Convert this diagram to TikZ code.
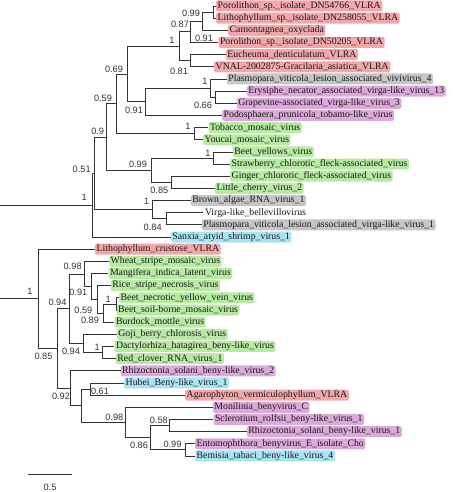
\documentclass[tikz,border=0pt]{standalone}
\usepackage{fontspec}
\setmainfont{Liberation Serif}
\setsansfont{Liberation Sans}
\definecolor{cR}{HTML}{F3A7AB}
\definecolor{cG}{HTML}{B7EAA2}
\definecolor{cP}{HTML}{DDA8DA}
\definecolor{cY}{HTML}{C6C6C6}
\definecolor{cC}{HTML}{A8E4F2}
\definecolor{ln}{HTML}{333333}
\begin{document}
\begin{tikzpicture}[x=1pt,y=-1pt,
  br/.style={draw=ln, line width=0.8pt},
  leaf/.style={anchor=west, inner xsep=1.5pt, inner ysep=0pt, minimum height=11pt, rounded corners=1.5pt, font=\fontsize{9.8}{10}\selectfont, text=black!90},
  lR/.style={leaf, fill=cR}, lG/.style={leaf, fill=cG}, lP/.style={leaf, fill=cP},
  lY/.style={leaf, fill=cY}, lC/.style={leaf, fill=cC}, lW/.style={leaf},
  bs/.style={font=\sffamily\fontsize{9.2}{9}\selectfont, inner sep=0pt, text=black!80}]
\useasboundingbox (0,0) rectangle (474,492);
% leaves
\node[lR] (L1) at (216,6.0) {Porolithon\_sp.\_isolate\_DN54766\_VLRA};
\node[lR] (L2) at (216,18.16) {Lithophyllum\_sp.\_isolate\_DN258055\_VLRA};
\node[lR] (L3) at (228,30.32) {Camontagnea\_oxyclada};
\node[lR] (L4) at (218.3,42.48) {Porolithon\_sp.\_isolate\_DN50205\_VLRA};
\node[lR] (L5) at (225.7,54.64) {Eucheuma\_denticulatum\_VLRA};
\node[lR] (L6) at (214,66.8) {VNAL-2002875-Gracilaria\_asiatica\_VLRA};
\node[lY] (L7) at (226.7,78.96) {Plasmopara\_viticola\_lesion\_associated\_vivivirus\_4};
\node[lP] (L8) at (246.7,91.12) {Erysiphe\_necator\_associated\_virga-like\_virus\_13};
\node[lP] (L9) at (236.7,103.28) {Grapevine-associated\_virga-like\_virus\_3};
\node[lP] (L10) at (222,115.44) {Podosphaera\_prunicola\_tobamo-like\_virus};
\node[lG] (L11) at (208.3,127.6) {Tobacco\_mosaic\_virus};
\node[lG] (L12) at (203,139.76) {Youcai\_mosaic\_virus};
\node[lG] (L13) at (232.7,151.92) {Beet\_yellows\_virus};
\node[lG] (L14) at (230,164.08) {Strawberry\_chlorotic\_fleck-associated\_virus};
\node[lG] (L15) at (230,176.24) {Ginger\_chlorotic\_fleck-associated\_virus};
\node[lG] (L16) at (215,188.4) {Little\_cherry\_virus\_2};
\node[lY] (L17) at (190.7,200.56) {Brown\_algae\_RNA\_virus\_1};
\node[lW] (L18) at (203.3,212.72) {Virga-like\_bellevillovirus};
\node[lY] (L19) at (201.7,224.88) {Plasmopara\_viticola\_lesion\_associated\_virga-like\_virus\_1};
\node[lC] (L20) at (170.7,237.04) {Sanxia\_atyid\_shrimp\_virus\_1};
\node[lR] (L21) at (95,249.2) {Lithophyllum\_crustose\_VLRA};
\node[lG] (L22) at (109,261.36) {Wheat\_stripe\_mosaic\_virus};
\node[lG] (L23) at (108.3,273.52) {Mangifera\_indica\_latent\_virus};
\node[lG] (L24) at (110.7,285.68) {Rice\_stripe\_necrosis\_virus};
\node[lG] (L25) at (119,297.84) {Beet\_necrotic\_yellow\_vein\_virus};
\node[lG] (L26) at (116.5,310.0) {Beet\_soil-borne\_mosaic\_virus};
\node[lG] (L27) at (114.3,322.16) {Burdock\_mottle\_virus};
\node[lG] (L28) at (116.7,334.32) {Goji\_berry\_chlorosis\_virus};
\node[lG] (L29) at (114.3,346.48) {Dactylorhiza\_hatagirea\_beny-like\_virus};
\node[lG] (L30) at (115.7,358.64) {Red\_clover\_RNA\_virus\_1};
\node[lP] (L31) at (120.5,370.8) {Rhizoctonia\_solani\_beny-like\_virus\_2};
\node[lC] (L32) at (124,382.96) {Hubei\_Beny-like\_virus\_1};
\node[lR] (L33) at (185,395.12) {Agarophyton\_vermiculophyllum\_VLRA};
\node[lP] (L34) at (212.7,407.28) {Monilinia\_benyvirus\_C};
\node[lP] (L35) at (213.3,419.44) {Sclerotium\_rolfsii\_beny-like\_virus\_1};
\node[lP] (L36) at (246.7,431.6) {Rhizoctonia\_solani\_beny-like\_virus\_1};
\node[lP] (L37) at (195,443.76) {Entomophthora\_benyvirus\_E\_isolate\_Cho};
\node[lC] (L38) at (195,455.92) {Bemisia\_tabaci\_beny-like\_virus\_4};
% internal nodes (upper)
\coordinate (n12) at (213.3,12.08);
\coordinate (n123) at (202.3,21.2);
\coordinate (n1234) at (190.7,31.84);
\coordinate (n56) at (190.7,60.72);
\coordinate (n1to6) at (179,46.28);
\coordinate (n89) at (215.7,97.2);
\coordinate (n789) at (210.7,88.08);
\coordinate (n7to10) at (145.7,101.76);
\coordinate (n1to10) at (127.7,74.02);
\coordinate (n1112) at (194.3,133.68);
\coordinate (n1to12) at (116.7,103.85);
\coordinate (n1314) at (213.3,158);
\coordinate (n1516) at (171.7,182.32);
\coordinate (n13to16) at (151.7,170.16);
\coordinate (nA) at (106.7,137.0);
\coordinate (n1819) at (166,218.8);
\coordinate (n17to19) at (152.7,209.68);
\coordinate (nB) at (94.3,173.34);
\coordinate (nC) at (92,205.19);
\coordinate (r1) at (0,205.19);
% internal nodes (lower)
\coordinate (G1e) at (116,303.92);
\coordinate (G1d) at (103.3,313.04);
\coordinate (G1c) at (97.3,299.36);
\coordinate (G1b) at (91.7,286.44);
\coordinate (G1) at (84.7,273.9);
\coordinate (G2b) at (102,352.56);
\coordinate (G2) at (83.3,343.44);
\coordinate (G) at (69.7,308.67);
\coordinate (B1e) at (185.7,449.84);
\coordinate (B1d) at (169.3,425.52);
\coordinate (B1c) at (150.5,437.68);
\coordinate (B1b) at (125,422.48);
\coordinate (B1a) at (90,389.04);
\coordinate (B1) at (81.7,405.76);
\coordinate (B) at (70.7,388.28);
\coordinate (X) at (57.3,348.48);
\coordinate (Lr) at (38.3,298.84);
\coordinate (r2) at (0,298.84);
% branches upper
\draw[br] (n12) |- (L1.west); \draw[br] (n12) |- (L2.west);
\draw[br] (n123) |- (n12); \draw[br] (n123) |- (L3.west);
\draw[br] (n1234) |- (n123); \draw[br] (n1234) |- (L4.west);
\draw[br] (n56) |- (L5.west); \draw[br] (n56) |- (L6.west);
\draw[br] (n1to6) |- (n1234); \draw[br] (n1to6) |- (n56);
\draw[br] (n89) |- (L8.west); \draw[br] (n89) |- (L9.west);
\draw[br] (n789) |- (L7.west); \draw[br] (n789) |- (n89);
\draw[br] (n7to10) |- (n789); \draw[br] (n7to10) |- (L10.west);
\draw[br] (n1to10) |- (n1to6); \draw[br] (n1to10) |- (n7to10);
\draw[br] (n1112) |- (L11.west); \draw[br] (n1112) |- (L12.west);
\draw[br] (n1to12) |- (n1to10); \draw[br] (n1to12) |- (n1112);
\draw[br] (n1314) |- (L13.west); \draw[br] (n1314) |- (L14.west);
\draw[br] (n1516) |- (L15.west); \draw[br] (n1516) |- (L16.west);
\draw[br] (n13to16) |- (n1314); \draw[br] (n13to16) |- (n1516);
\draw[br] (nA) |- (n1to12); \draw[br] (nA) |- (n13to16);
\draw[br] (n1819) |- (L18.west); \draw[br] (n1819) |- (L19.west);
\draw[br] (n17to19) |- (L17.west); \draw[br] (n17to19) |- (n1819);
\draw[br] (nB) |- (nA); \draw[br] (nB) |- (n17to19);
\draw[br] (nC) |- (nB); \draw[br] (nC) |- (L20.west);
\draw[br] (r1) -- (nC);
% branches lower
\draw[br] (G1e) |- (L25.west); \draw[br] (G1e) |- (L26.west);
\draw[br] (G1d) |- (G1e); \draw[br] (G1d) |- (L27.west);
\draw[br] (G1c) |- (L24.west); \draw[br] (G1c) |- (G1d);
\draw[br] (G1b) |- (L23.west); \draw[br] (G1b) |- (G1c);
\draw[br] (G1) |- (L22.west); \draw[br] (G1) |- (G1b);
\draw[br] (G2b) |- (L29.west); \draw[br] (G2b) |- (L30.west);
\draw[br] (G2) |- (L28.west); \draw[br] (G2) |- (G2b);
\draw[br] (G) |- (G1); \draw[br] (G) |- (G2);
\draw[br] (B1e) |- (L37.west); \draw[br] (B1e) |- (L38.west);
\draw[br] (B1d) |- (L35.west); \draw[br] (B1d) |- (L36.west);
\draw[br] (B1c) |- (B1d); \draw[br] (B1c) |- (B1e);
\draw[br] (B1b) |- (L34.west); \draw[br] (B1b) |- (B1c);
\draw[br] (B1a) |- (L32.west); \draw[br] (B1a) |- (L33.west);
\draw[br] (B1) |- (B1a); \draw[br] (B1) |- (B1b);
\draw[br] (B) |- (L31.west); \draw[br] (B) |- (B1);
\draw[br] (X) |- (G); \draw[br] (X) |- (B);
\draw[br] (Lr) |- (L21.west); \draw[br] (Lr) |- (X);
\draw[br] (r2) -- (Lr);
% support values upper
\node[bs] (s1) at (191,13.3) {0.99};
\node[bs] (s2) at (180,24) {0.87};
\node[bs] (s3) at (204,38) {0.91};
\node[bs] (s4) at (172,40.7) {1};
\node[bs] (s5) at (179,71) {0.81};
\node[bs] (s6) at (114,69) {0.69};
\node[bs] (s7) at (205,81.7) {1};
\node[bs] (s8) at (203,105) {0.66};
\node[bs] (s9) at (134,110) {0.91};
\node[bs] (s10) at (103,98) {0.59};
\node[bs] (s11) at (188,126) {1};
\node[bs] (s12) at (97.7,131) {0.9};
\node[bs] (s13) at (208,153) {1};
\node[bs] (s14) at (138,164) {0.99};
\node[bs] (s15) at (159.3,190.7) {0.85};
\node[bs] (s16) at (81.7,169.3) {0.51};
\node[bs] (s17) at (84.3,197.3) {1};
\node[bs] (s18) at (146.7,201.7) {1};
\node[bs] (s19) at (152.7,227.7) {0.84};
% support values lower
\node[bs] (t1) at (30,291) {1};
\node[bs] (t2) at (72.7,266) {0.98};
\node[bs] (t3) at (78.3,292.7) {0.91};
\node[bs] (t4) at (108.3,299.5) {1};
\node[bs] (t5) at (83.3,310) {0.59};
\node[bs] (t6) at (90,320.7) {0.89};
\node[bs] (t7) at (57.5,302.3) {0.94};
\node[bs] (t8) at (97.3,347) {1};
\node[bs] (t9) at (71,351) {0.94};
\node[bs] (t10) at (43.5,356.5) {0.85};
\node[bs] (t11) at (61,396.7) {0.92};
\node[bs] (t12) at (100,391.7) {0.61};
\node[bs] (t13) at (114.3,417) {0.98};
\node[bs] (t14) at (158.8,420.7) {0.58};
\node[bs] (t15) at (139,445) {0.86};
\node[bs] (t16) at (172.5,444.7) {0.99};
% scale bar
\coordinate (sb1) at (28,474);
\coordinate (sb2) at (72,474);
\draw[br] (sb1) -- (sb2);
\node[bs] (sbl) at (50,487) {0.5};
\end{tikzpicture}
\end{document}
